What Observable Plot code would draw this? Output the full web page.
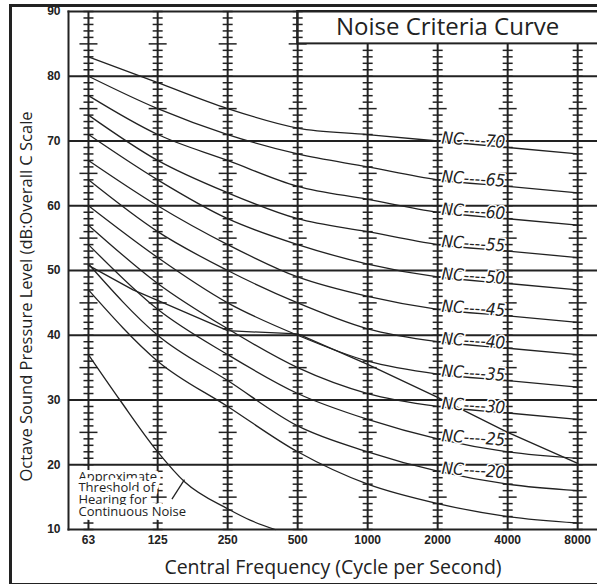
<!DOCTYPE html>
<html>
<head>
<meta charset="utf-8">
<script src="https://cdn.jsdelivr.net/npm/d3@7"></script>
<script src="https://cdn.jsdelivr.net/npm/@observablehq/plot@0.6"></script>
<style>
  html, body { margin: 0; padding: 0; background: #fff; }
  #wrap { position: relative; width: 597px; height: 584px; overflow: hidden; background: #fff; }
  #wrap svg { position: absolute; left: 0; top: 0; }
  #outer { position: absolute; left: 9px; top: 4px; width: 700px; height: 576px;
           border-left: 3px solid #222; border-top: 3px solid #222; border-bottom: 3px solid #222;
           pointer-events: none; }
</style>
</head>
<body>
<div id="wrap"><div id="outer"></div></div>
<script>
// ---- data ----
const freqs = [63, 125, 250, 500, 1000, 2000, 4000, 8000];
const freqLabels = ["63", "125", "250", "500", "1000", "2000", "4000", "8000"];
const dbTicks = [10, 20, 30, 40, 50, 60, 70, 80, 90];
const gridDb = [20, 30, 40, 50, 60, 70, 80];

// Noise criteria curves (dB at each octave band)
const nc15 = [47, 36, 29, 22, 17, 14, 12, 11];
const nc20 = [51, 40, 33, 26, 22, 19, 17, 16];
const nc25 = [54, 44, 37, 31, 27, 24, 22, 21];
const nc30 = [57, 48, 41, 35, 31, 29, 28, 27];
const nc35 = [60, 52, 45, 40, 36, 34, 33, 32];
const nc40 = [64, 56, 50, 45, 41, 39, 38, 37];
const nc45 = [67, 60, 54, 49, 46, 44, 43, 42];
const nc50 = [71, 64, 58, 54, 51, 49, 48, 47];
const nc55 = [74, 67, 62, 58, 56, 54, 53, 52];
const nc60 = [77, 71, 67, 63, 61, 59, 58, 57];
const nc65 = [80, 75, 71, 68, 66, 64, 63, 62];
const nc70 = [83, 79, 75, 72, 71, 70, 69, 68];
const ncLevels = [15, 20, 25, 30, 35, 40, 45, 50, 55, 60, 65, 70];
const ncLabelLevels = [20, 25, 30, 35, 40, 45, 50, 55, 60, 65, 70];

// extra straight-ish line crossing the curves
const extraFreq = [63, 98, 125, 250, 500, 1000, 2000, 4000, 8000];
const extraDb = [50.8, 47, 45.4, 40.7, 40.2, 35.5, 30.4, 25, 20.2];

// approximate threshold of hearing
const thrFreq = [63, 86, 125, 164, 250, 314, 400];
const thrDb = [37, 30, 22, 17.3, 13.2, 11.4, 10];

const pointerFreq = [144, 163];
const pointerDb = [14.7, 17.7];

const annotation = "Approximate\nThreshold of\nHearing for\nContinuous Noise";
const boxTitle = "Noise Criteria Curve";
const xTitle = "Central Frequency (Cycle per Second)";
const yTitle = "Octave Sound Pressure Level (dB:Overall C Scale";

// ---- derived tables ----
const ncTable = {15: nc15, 20: nc20, 25: nc25, 30: nc30, 35: nc35, 40: nc40,
                 45: nc45, 50: nc50, 55: nc55, 60: nc60, 65: nc65, 70: nc70};
const ncRows = ncLevels.flatMap(l => freqs.map((f, i) => ({nc: l, f, db: ncTable[l][i]})));
const ncLabels = ncLabelLevels.map(l => ({nc: l, f: 2000, db: ncTable[l][freqs.indexOf(2000)]}));
const extraRows = extraFreq.map((f, i) => ({f, db: extraDb[i]}));
const thrRows = thrFreq.map((f, i) => ({f, db: thrDb[i]}));
const pointer = [{x1: pointerFreq[0], y1: pointerDb[0], x2: pointerFreq[1], y2: pointerDb[1]}];

const xDomain = [51.7, 9735];
const boxFreq = 500, boxLow = 85, boxHigh = 90;

// ladder: 1 dB ticks on each octave column
const ladder = [];
for (const f of freqs) {
  for (let db = 10; db <= 90; db++) {
    if (f > boxFreq && db >= boxLow) continue;
    ladder.push({f, db, long: db % 5 === 0 && db % 10 !== 0});
  }
}
const columns = freqs.map(f => ({f, top: f > boxFreq ? boxLow : 90}));

const hDash = {draw(ctx, size) { const r = Math.sqrt(size / Math.PI); ctx.moveTo(-r, 0); ctx.lineTo(r, 0); }};
const ink = "#222";

const chart = Plot.plot({
  width: 597, height: 584,
  marginLeft: 68, marginTop: 11, marginBottom: 55, marginRight: 0,
  style: {fontFamily: "'Liberation Sans', Arial, sans-serif", background: "transparent", color: ink},
  x: {type: "log", base: 2, domain: xDomain},
  y: {domain: [10, 90]},
  marks: [
    Plot.ruleY(gridDb, {stroke: ink, strokeWidth: 2}),
    Plot.rect([{}], {x1: boxFreq, x2: xDomain[1] * 1.5, y1: boxLow, y2: boxHigh, fill: "white", stroke: ink, strokeWidth: 2}),
    Plot.ruleX(columns, {x: "f", y1: 10, y2: "top", stroke: ink, strokeWidth: 2}),
    Plot.dot(ladder.filter(d => !d.long), {x: "f", y: "db", r: 5, symbol: hDash, fill: "none", stroke: ink, strokeWidth: 1.5}),
    Plot.dot(ladder.filter(d => d.long), {x: "f", y: "db", r: 9, symbol: hDash, fill: "none", stroke: ink, strokeWidth: 1.5}),
    Plot.frame({anchor: "left", stroke: ink, strokeWidth: 2}),
    Plot.frame({anchor: "top", stroke: ink, strokeWidth: 2}),
    Plot.frame({anchor: "bottom", stroke: ink, strokeWidth: 2}),
    Plot.line(ncRows, {x: "f", y: "db", z: "nc", curve: "monotone-x", stroke: ink, strokeWidth: 1.3}),
    Plot.line(extraRows, {x: "f", y: "db", stroke: ink, strokeWidth: 1.3}),
    Plot.line(thrRows, {x: "f", y: "db", curve: "monotone-x", stroke: ink, strokeWidth: 1.3}),
    Plot.text(ncLabels, {x: "f", y: "db", text: d => `NC----${d.nc}`, dx: 4, dy: -3, rotate: 4,
      textAnchor: "start", fontStyle: "italic", fontSize: 17,
      fontFamily: "'Liberation Sans Narrow', 'DejaVu Sans Condensed', 'Liberation Sans', sans-serif",
      fill: ink, stroke: "white", strokeWidth: 3}),
    Plot.text([annotation], {x: () => 63, y: () => 15.4, dx: -10, textAnchor: "start", lineAnchor: "middle",
      lineHeight: 0.9, fontSize: 13, fontFamily: "'Open Sans', sans-serif", fill: ink, stroke: "white", strokeWidth: 8}),
    Plot.link(pointer, {x1: "x1", y1: "y1", x2: "x2", y2: "y2", stroke: ink, strokeWidth: 1.3}),
    Plot.text([boxTitle], {x: () => Math.sqrt(boxFreq * xDomain[1]), y: () => (boxLow + boxHigh) / 2,
      fontSize: 24, fontFamily: "'Open Sans', sans-serif", fill: ink}),
    Plot.axisY(dbTicks, {ticks: dbTicks, tickSize: 0, tickPadding: 8, fontWeight: "bold", fontSize: 12, label: null}),
    Plot.axisX(freqs, {ticks: freqs, tickSize: 0, tickPadding: 6, fontWeight: "bold", fontSize: 12, label: null,
      tickFormat: (d) => freqLabels[freqs.indexOf(d)]}),
    Plot.text([xTitle], {frameAnchor: "bottom", dy: 38, textAnchor: "middle", lineAnchor: "middle", fontSize: 19.5,
      fontFamily: "'Open Sans', sans-serif", fill: ink}),
    Plot.text([yTitle], {frameAnchor: "left", dx: -42, dy: 26, rotate: -90, textAnchor: "middle", lineAnchor: "middle",
      fontSize: 16.5, fontFamily: "'Open Sans', sans-serif", fill: ink})
  ]
});
document.getElementById("wrap").prepend(chart);
</script>
</body>
</html>
